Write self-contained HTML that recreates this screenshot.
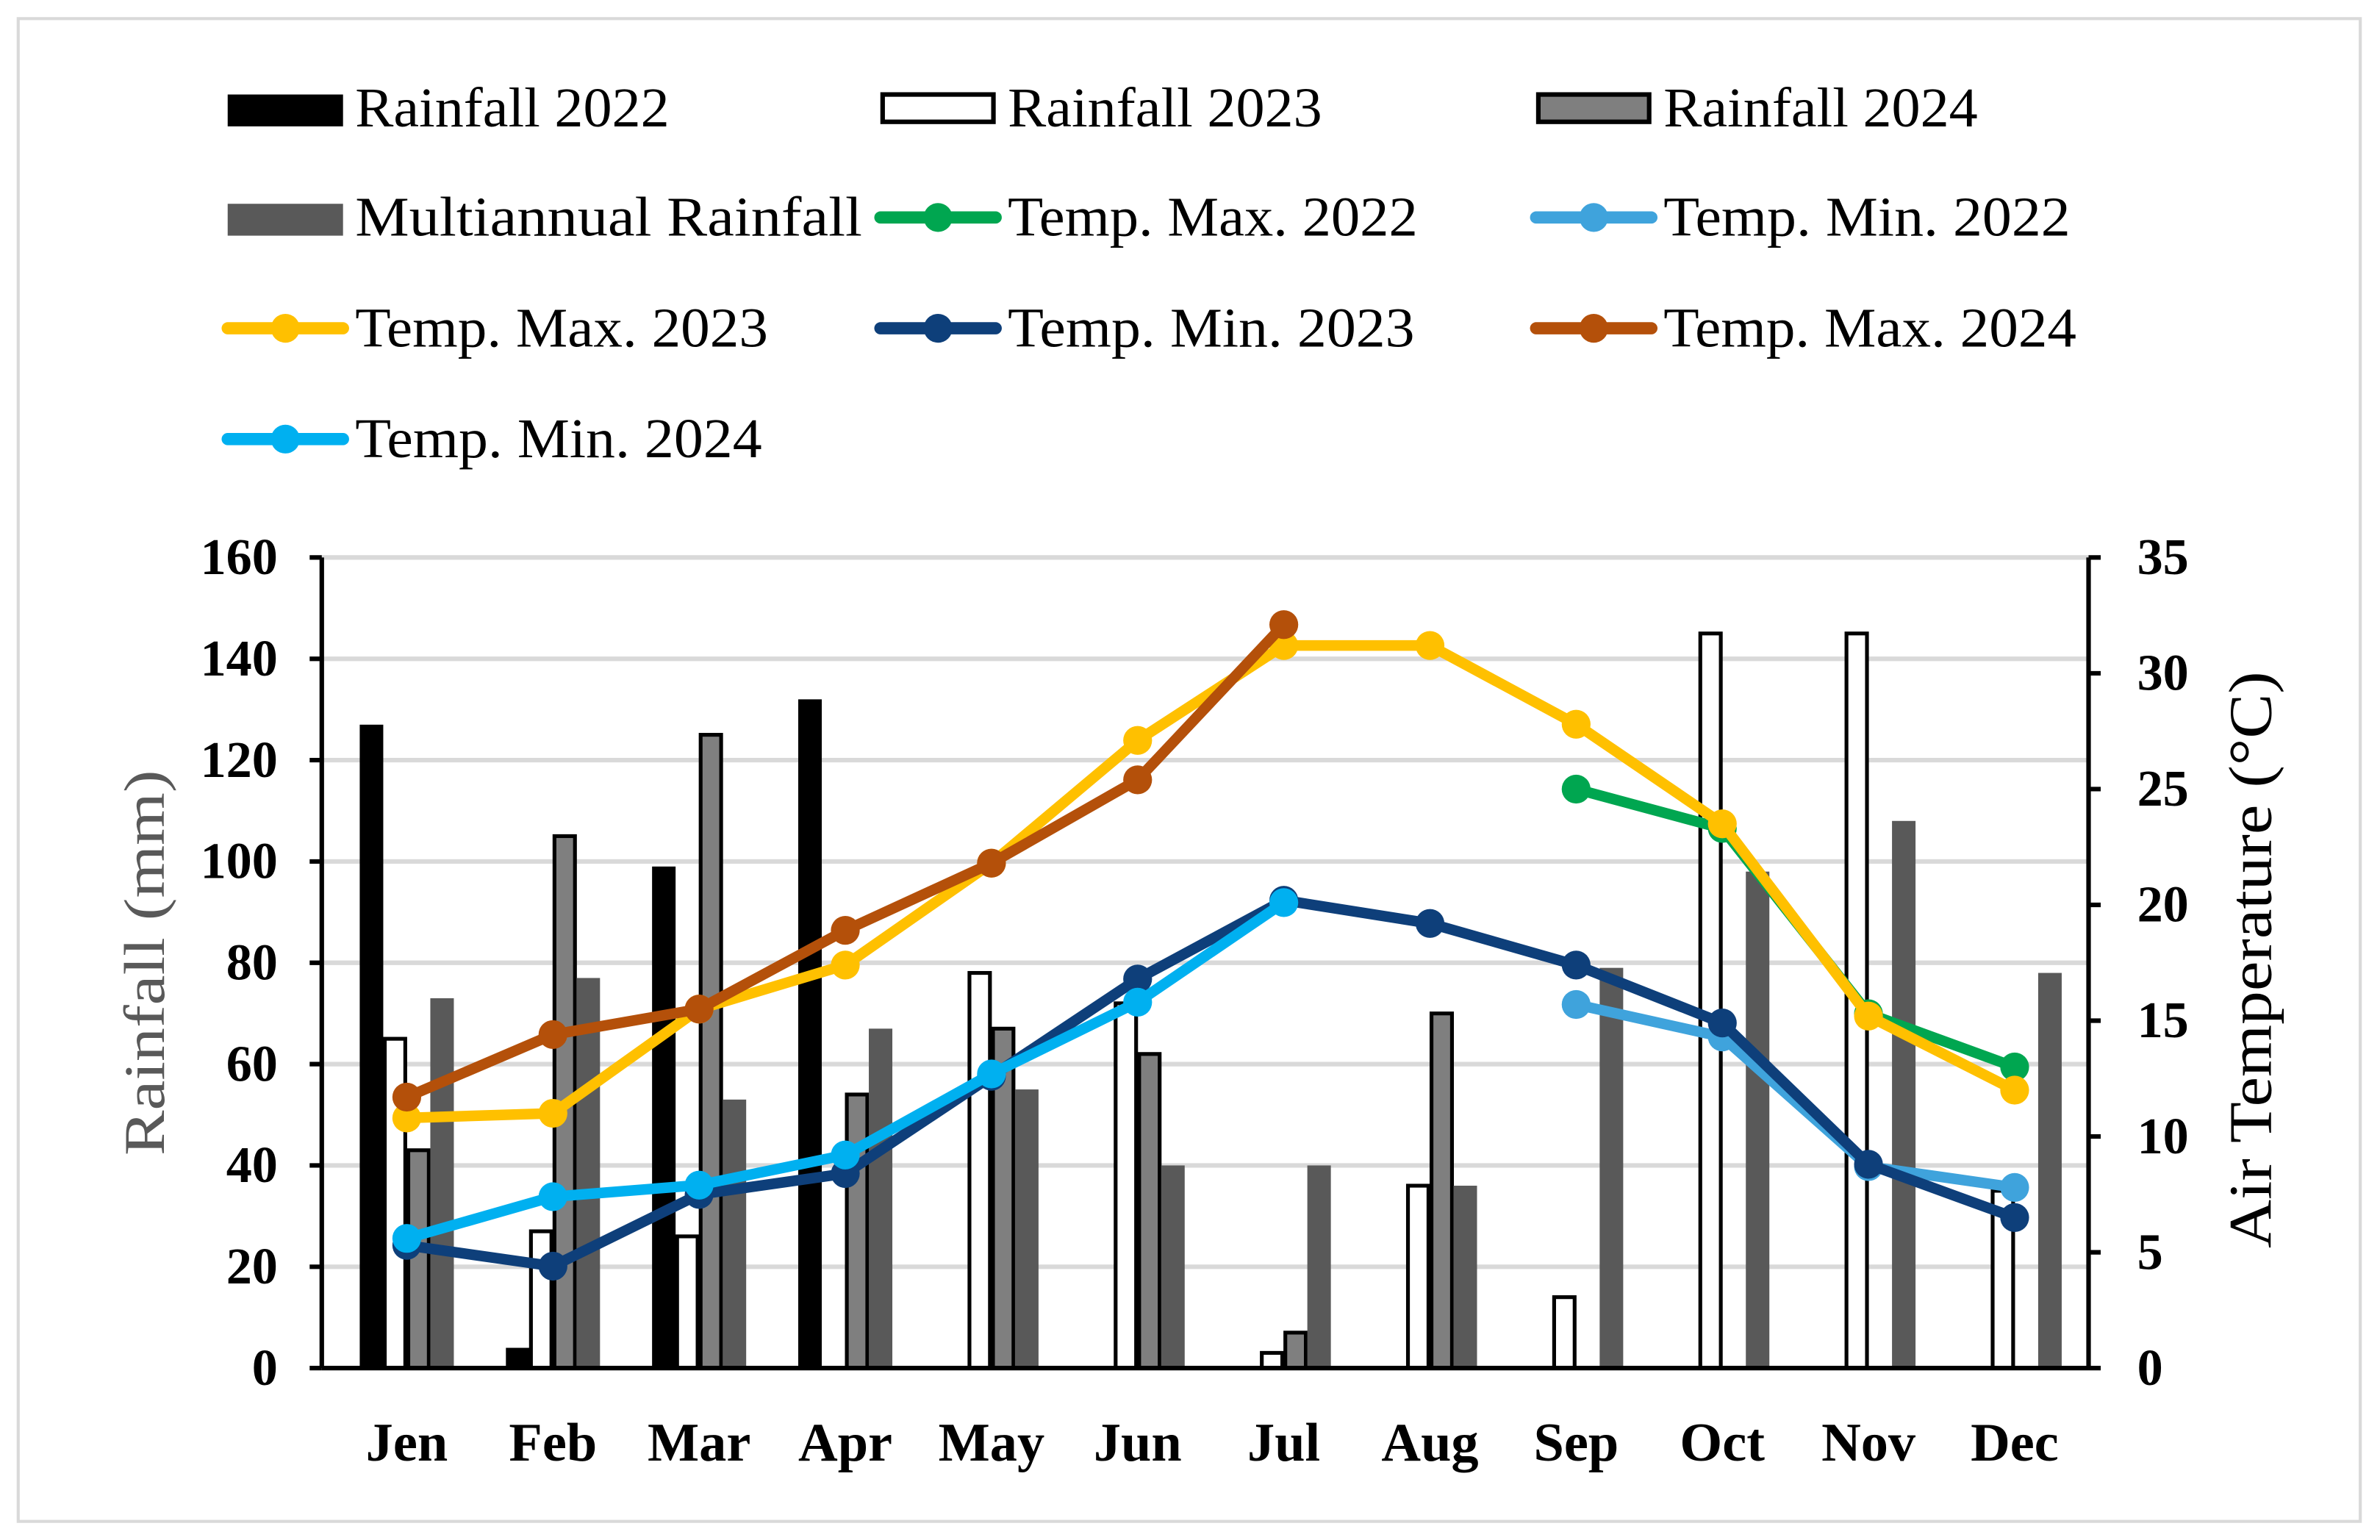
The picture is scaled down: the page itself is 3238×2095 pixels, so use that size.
<!DOCTYPE html>
<html><head><meta charset="utf-8"><style>
html,body{margin:0;padding:0;background:#fff;}
svg{display:block;}
text{font-family:"Liberation Serif",serif;}
</style></head><body>
<svg id="chart" width="3238" height="2095" viewBox="0 0 1568 1014" xmlns="http://www.w3.org/2000/svg">
<rect x="0" y="0" width="1568" height="1014" fill="#fff"/>
<rect x="12" y="12" width="1543" height="990" fill="none" stroke="#d9d9d9" stroke-width="2"/>
<g id="grid"></g><g id="bars"></g><g id="lines"></g><g id="axes"></g><g id="legend"></g>
</svg>
<script>
const months=["Jen","Feb","Mar","Apr","May","Jun","Jul","Aug","Sep","Oct","Nov","Dec"];
const rain2022=[127,4,99,132,null,null,null,null,null,null,null,null];
const rain2023=[65,27,26,null,78,72,3,36,14,145,145,35];
const rain2024=[43,105,125,54,67,62,7,70,null,null,null,null];
const rainMulti=[73,77,53,67,55,40,40,36,79,98,108,78];
const tMax2022=[null,null,null,null,null,null,null,null,25,23.3,15.3,13];
const tMin2022=[null,null,null,null,null,null,null,null,15.7,14.3,8.7,7.8];
const tMax2023=[10.8,11,15.5,17.4,21.8,27.1,31.2,31.2,27.8,23.5,15.2,12];
const tMin2023=[5.3,4.4,7.5,8.4,12.6,16.8,20.2,19.2,17.4,14.9,8.8,6.5];
const tMax2024=[11.7,14.4,15.5,18.9,21.8,25.4,32.1,null,null,null,null,null];
const tMin2024=[5.6,7.4,7.9,9.2,12.7,15.8,20.1,null,null,null,null,null];
const leftTicks=[0,20,40,60,80,100,120,140,160];
const rightTicks=[0,5,10,15,20,25,30,35];

const NS="http://www.w3.org/2000/svg";
const X0=212,X1=1376,Y0=901,Y1=367;
const yL=v=>Y0-(v/160)*(Y0-Y1);
const yR=v=>Y0-(v/35)*(Y0-Y1);
const xC=i=>268+i*96.3;
function mk(tag,attrs,parent){const e=document.createElementNS(NS,tag);for(const k in attrs)e.setAttribute(k,attrs[k]);parent.appendChild(e);return e;}
const G=id=>document.getElementById(id);

leftTicks.forEach(t=>{if(t===0)return;const l=mk('line',{x1:X0,x2:X1,y1:yL(t),y2:yL(t),stroke:'#d9d9d9','stroke-width':3},G('grid'));

});

const bw=15.5;
const barSeries=[[rain2022,'#000','none',0,'bar-rain-2022'],[rain2023,'#fff','#000',1,'bar-rain-2023'],[rain2024,'#7f7f7f','#000',2,'bar-rain-2024'],[rainMulti,'#595959','none',3,'bar-multiannual']];
barSeries.forEach(([arr,fill,stroke,k,name])=>{arr.forEach((v,i)=>{if(v==null)return;
const x=xC(i)-31+k*bw;const r=mk('rect',{x:x+(stroke!=='none'?1:0),y:yL(v),width:bw-(stroke!=='none'?2:0),height:Y0-yL(v),fill:fill,stroke:stroke,'stroke-width':stroke!=='none'?2.5:0},G('bars'));

});});

const lineSeries=[[tMax2022,'#00a650','line-temp-max-2022'],[tMin2022,'#3fa3dc','line-temp-min-2022'],[tMax2023,'#ffc000','line-temp-max-2023'],[tMax2024,'#b4500a','line-temp-max-2024'],[tMin2023,'#0e3f7a','line-temp-min-2023'],[tMin2024,'#00b0f0','line-temp-min-2024']];
lineSeries.forEach(([arr,col,name])=>{const g=mk('g',{},G('lines'));


const pts=[];arr.forEach((v,i)=>{if(v!=null)pts.push([xC(i),yR(v)]);});
mk('polyline',{points:pts.map(p=>p.join(',')).join(' '),fill:'none',stroke:col,'stroke-width':7,'stroke-linejoin':'round'},g);
pts.forEach(p=>{const c=mk('circle',{cx:p[0],cy:p[1],r:9.5,fill:col},g);

});});

const ax=G('axes');
mk('line',{x1:X0,x2:X0,y1:Y1,y2:Y0,stroke:'#000','stroke-width':3},ax);
mk('line',{x1:X1,x2:X1,y1:Y1,y2:Y0,stroke:'#000','stroke-width':3},ax);
mk('line',{x1:X0,x2:X1,y1:Y0,y2:Y0,stroke:'#000','stroke-width':3},ax);
leftTicks.forEach(t=>{mk('line',{x1:X0-8,x2:X0,y1:yL(t),y2:yL(t),stroke:'#000','stroke-width':3},ax);
const tx=mk('text',{x:183,y:yL(t)+11,'text-anchor':'end','font-size':34,'font-weight':'bold'},ax);tx.textContent=t;

});
rightTicks.forEach(t=>{mk('line',{x1:X1,x2:X1+8,y1:yR(t),y2:yR(t),stroke:'#000','stroke-width':3},ax);
const tx=mk('text',{x:1408,y:yR(t)+11,'text-anchor':'start','font-size':34,'font-weight':'bold'},ax);tx.textContent=t;

});
months.forEach((m,i)=>{const tx=mk('text',{x:xC(i),y:962,'text-anchor':'middle','font-size':36,'font-weight':'bold'},ax);tx.textContent=m;

});
const ylt=mk('text',{x:0,y:0,transform:'translate(108,634) rotate(-90)','text-anchor':'middle','font-size':38,fill:'#595959',textLength:254,lengthAdjust:'spacingAndGlyphs'},ax);ylt.textContent='Rainfall (mm)';


const yrt=mk('text',{x:0,y:0,transform:'translate(1496,632) rotate(-90)','text-anchor':'middle','font-size':40,fill:'#000',textLength:380,lengthAdjust:'spacingAndGlyphs'},ax);yrt.textContent='Air Temperature (°C)';



const leg=[['Rainfall 2022','bar','#000','none'],['Rainfall 2023','bar','#fff','#000'],['Rainfall 2024','bar','#7f7f7f','#000'],
['Multiannual Rainfall','bar','#595959','none'],['Temp. Max. 2022','line','#00a650'],['Temp. Min. 2022','line','#3fa3dc'],
['Temp. Max. 2023','line','#ffc000'],['Temp. Min. 2023','line','#0e3f7a'],['Temp. Max. 2024','line','#b4500a'],['Temp. Min. 2024','line','#00b0f0']];
const legW=[207,207,207,334,270,268,272,268,272,268];
const colX=[150,580,1012],rowY=[71,143,216,289];
leg.forEach((e,k)=>{const c=k%3,r=Math.floor(k/3);const g=mk('g',{},G('legend'));


const sx=colX[c],y=rowY[r];
if(e[1]==='bar'){mk('rect',{x:sx+(e[3]!=='none'?1.5:0),y:y-9,width:e[3]!=='none'?73:76,height:e[3]!=='none'?18:21,fill:e[2],stroke:e[3],'stroke-width':e[3]!=='none'?3:0},g);}
else{mk('line',{x1:sx,x2:sx+76,y1:y,y2:y,stroke:e[2],'stroke-width':8,'stroke-linecap':'round'},g);mk('circle',{cx:sx+38,cy:y,r:9.5,fill:e[2]},g);}
const tx=mk('text',{x:sx+84,y:y+12,'font-size':37,textLength:legW[k],lengthAdjust:'spacingAndGlyphs'},g);tx.textContent=e[0];});
</script>
</body></html>
